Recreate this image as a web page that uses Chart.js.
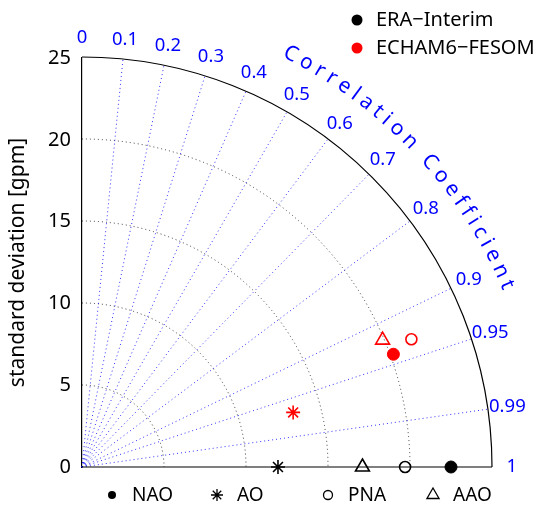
<!DOCTYPE html>
<html>
<head>
<meta charset="utf-8">
<script src="https://cdn.jsdelivr.net/npm/chart.js@4.4.1/dist/chart.umd.min.js"></script>
<style>
  body { margin: 0; background: #fff; }
  #wrap { width: 542px; height: 509px; }
</style>
</head>
<body>
<div id="wrap"><canvas id="taylor"></canvas></div>
<script>
const FONT = '"Noto Sans", sans-serif';

// modes and their markers
const modes = ['NAO', 'AO', 'PNA', 'AAO'];
const markers = ['circle', 'star', 'circle', 'triangle'];
const markerFilled = [true, false, false, false];
const markerSize = [6, 7, 5.5, 8];

// ERA-Interim (reference, correlation 1)
const eraStd = [22.5, 11.95, 19.7, 17.1];
const eraCorr = [1, 1, 1, 1];

// ECHAM6-FESOM
const echamStd = [20.2, 13.3, 21.55, 19.9];
const echamCorr = [0.940, 0.968, 0.932, 0.921];

const corrTicks = [0, 0.1, 0.2, 0.3, 0.4, 0.5, 0.6, 0.7, 0.8, 0.9, 0.95, 0.99, 1];
const corrRays = [0.1, 0.2, 0.3, 0.4, 0.5, 0.6, 0.7, 0.8, 0.9, 0.95, 0.99];
const stdCircles = [5, 10, 15, 20];
const stdMax = 25;

const toXY = (std, corr) => std.map((s, i) => ({ x: s * corr[i], y: s * Math.sqrt(1 - corr[i] * corr[i]) }));

function makeDataset(label, color, std, corr) {
  return {
    label,
    data: toXY(std, corr),
    pointStyle: markers,
    pointRadius: markerSize,
    pointHoverRadius: markerSize,
    backgroundColor: markerFilled.map(f => f ? color : 'rgba(0,0,0,0)'),
    borderColor: color,
    pointBorderWidth: markerFilled.map(f => f ? 1 : 1.6),
    clip: false
  };
}

function drawMarker(ctx, style, x, y, r, color, fill) {
  ctx.save();
  ctx.strokeStyle = color;
  ctx.fillStyle = color;
  ctx.lineWidth = 1.3;
  ctx.beginPath();
  if (style === 'circle') {
    ctx.arc(x, y, r, 0, Math.PI * 2);
    fill ? ctx.fill() : ctx.stroke();
  } else if (style === 'star') {
    for (let k = 0; k < 4; k++) {
      const a = k * Math.PI / 4;
      ctx.moveTo(x - Math.cos(a) * r, y - Math.sin(a) * r);
      ctx.lineTo(x + Math.cos(a) * r, y + Math.sin(a) * r);
    }
    ctx.stroke();
  } else if (style === 'triangle') {
    for (let k = 0; k < 3; k++) {
      const a = k * 2 * Math.PI / 3;
      const px = x + Math.sin(a) * r, py = y - Math.cos(a) * r;
      k ? ctx.lineTo(px, py) : ctx.moveTo(px, py);
    }
    ctx.closePath();
    ctx.stroke();
  }
  ctx.restore();
}

const taylorGrid = {
  id: 'taylorGrid',
  beforeDatasetsDraw(chart) {
    const { ctx, scales: { x, y } } = chart;
    const ox = x.getPixelForValue(0), oy = y.getPixelForValue(0);
    const unit = x.getPixelForValue(1) - ox;
    ctx.save();
    // std dev circles
    ctx.strokeStyle = 'rgba(0,0,0,0.75)';
    ctx.lineWidth = 1;
    ctx.setLineDash([1, 3]);
    stdCircles.forEach(s => {
      ctx.beginPath();
      ctx.arc(ox, oy, s * unit, -Math.PI / 2, 0);
      ctx.stroke();
    });
    // correlation rays
    ctx.strokeStyle = 'rgba(0,0,255,0.8)';
    corrRays.forEach(c => {
      const a = Math.acos(c);
      ctx.beginPath();
      ctx.moveTo(ox, oy);
      ctx.lineTo(ox + Math.cos(a) * stdMax * unit, oy - Math.sin(a) * stdMax * unit);
      ctx.stroke();
    });
    // outer arc and axes
    ctx.setLineDash([]);
    ctx.strokeStyle = '#000';
    ctx.lineWidth = 1.2;
    ctx.beginPath();
    ctx.arc(ox, oy, stdMax * unit, -Math.PI / 2, 0);
    ctx.stroke();
    ctx.beginPath();
    ctx.moveTo(ox, oy);
    ctx.lineTo(ox + stdMax * unit, oy);
    ctx.stroke();
    ctx.restore();
  },
  afterDraw(chart) {
    const { ctx, scales: { x, y } } = chart;
    const ox = x.getPixelForValue(0), oy = y.getPixelForValue(0);
    const unit = x.getPixelForValue(1) - ox;
    ctx.save();
    // correlation labels
    ctx.fillStyle = '#0000ff';
    ctx.font = '18.5px ' + FONT;
    ctx.textAlign = 'center';
    ctx.textBaseline = 'middle';
    corrTicks.forEach(c => {
      const a = Math.acos(c);
      const r = 26.2 * unit;
      ctx.fillText(String(c), ox + Math.cos(a) * r, oy - Math.sin(a) * r);
    });
    // curved title
    const title = 'Correlation Coefficient';
    ctx.font = '21px ' + FONT;
    const rT = 28.2 * unit;
    const a0 = 63.2 * Math.PI / 180, a1 = 23.2 * Math.PI / 180;
    const widths = [...title].map(ch => ctx.measureText(ch).width);
    const total = widths.reduce((s, w) => s + w, 0);
    const gap = ((a0 - a1) * rT - total + widths[0] / 2 + widths[widths.length - 1] / 2) / (title.length - 1);
    let pos = 0;
    [...title].forEach((ch, i) => {
      if (i > 0) pos += widths[i - 1] / 2 + gap + widths[i] / 2;
      const a = a0 - pos / rT;
      ctx.save();
      ctx.translate(ox + Math.cos(a) * rT, oy - Math.sin(a) * rT);
      ctx.rotate(Math.PI / 2 - a);
      ctx.fillText(ch, 0, 0);
      ctx.restore();
    });
    // top legend
    ctx.font = '20px ' + FONT;
    ctx.textAlign = 'left';
    [['ERA\u2212Interim', '#000', 20], ['ECHAM6\u2212FESOM', '#ff0000', 48]].forEach(([t, col, yy]) => {
      drawMarker(ctx, 'circle', 357, yy, 5.5, col, true);
      ctx.fillStyle = '#000';
      ctx.fillText(t, 376, yy);
    });
    // bottom legend
    ctx.font = '19px ' + FONT;
    const lx = [112, 217, 328, 433];
    const lr = [4, 6, 4.5, 7];
    modes.forEach((m, i) => {
      drawMarker(ctx, markers[i], lx[i], 495, lr[i], '#000', markerFilled[i]);
      ctx.fillStyle = '#000';
      ctx.fillText(m, lx[i] + 20, 496);
    });
    ctx.restore();
  }
};

new Chart(document.getElementById('taylor'), {
  type: 'scatter',
  data: {
    datasets: [
      makeDataset('ERA\u2212Interim', '#000000', eraStd, eraCorr),
      makeDataset('ECHAM6\u2212FESOM', '#ff0000', echamStd, echamCorr)
    ]
  },
  options: {
    responsive: true,
    maintainAspectRatio: false,
    animation: false,
    layout: { padding: { top: 58, right: 50, bottom: 42, left: 0 } },
    plugins: { legend: { display: false }, tooltip: { enabled: false } },
    scales: {
      x: { display: false, min: 0, max: stdMax },
      y: {
        min: 0, max: stdMax,
        ticks: { stepSize: 5, color: '#000', font: { size: 20, family: FONT }, padding: 11 },
        grid: { display: false, drawTicks: false },
        border: { display: true, color: '#000', width: 1.2 },
        title: { display: true, text: 'standard deviation [gpm]', color: '#000', font: { size: 21, family: FONT }, padding: { top: 5, bottom: 0 } },
        afterFit(scale) { scale.width = 82; }
      }
    }
  },
  plugins: [taylorGrid]
});
</script>
</body>
</html>
